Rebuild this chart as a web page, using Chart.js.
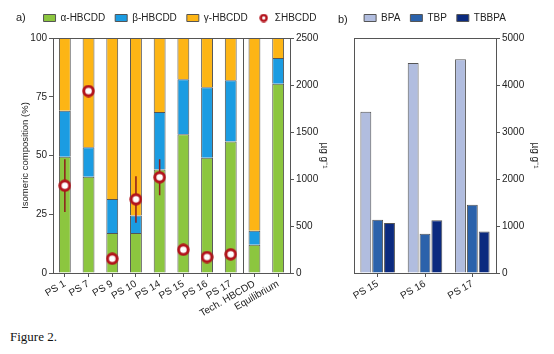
<!DOCTYPE html>
<html>
<head>
<meta charset="utf-8">
<script src="https://cdn.jsdelivr.net/npm/chart.js@4.4.0/dist/chart.umd.min.js"></script>
<style>
  body { margin: 0; background: #fff; width: 554px; height: 354px; position: relative; overflow: hidden; font-family: "Liberation Sans", Arial, sans-serif; }
  #wrapA { position: absolute; left: 0; top: 0; width: 330px; height: 320px; }
  #wrapB { position: absolute; left: 330px; top: 0; width: 224px; height: 320px; }
  .tag { position: absolute; font-size: 11px; color: #222; }
  #figCap { position: absolute; left: 10px; top: 329px; font-family: "Liberation Serif", "Times New Roman", serif; font-size: 13px; color: #111; }
</style>
</head>
<body>
<div id="wrapA"><canvas id="chartA"></canvas></div>
<div id="wrapB"><canvas id="chartB"></canvas></div>
<div class="tag" style="left:16px;top:11px">a)</div>
<div class="tag" style="left:338px;top:13px">b)</div>
<div id="figCap">Figure 2.</div>
<script>
// panel a - HBCDD isomers (%) and sum HBCDD (ug/g)
const sampleLabels = ['PS 1', 'PS 7', 'PS 9', 'PS 10', 'PS 14', 'PS 15', 'PS 16', 'PS 17', 'Tech. HBCDD', 'Equilibrium'];
const alphaPct = [49.5, 41, 17, 17, 44, 59, 49, 56, 12, 80.5];
const betaPct = [19.5, 12.5, 14.5, 7.5, 24.5, 23.5, 30, 26, 6, 11];
const gammaPct = [31, 46.5, 68.5, 75.5, 31.5, 17.5, 21, 18, 82, 8.5];
const sumHbcdd = [929, 1936, 152, 784, 1018, 248, 170, 199, null, null];
const sumLow = [649, null, null, 535, 827, null, null, null, null, null];
const sumHigh = [1210, null, null, 1029, 1210, null, null, null, null, null];

// panel b - bisphenol / bromophenols (ug/g)
const bfrLabels = ['PS 15', 'PS 16', 'PS 17'];
const bpaConc = [3430, 4470, 4550];
const tbpConc = [1135, 835, 1450];
const tbbpaConc = [1065, 1120, 885];

Chart.defaults.font.family = '"Liberation Sans", Arial, sans-serif';
Chart.defaults.font.size = 10;
Chart.defaults.color = '#222';

const axisGrey = '#555';
const sumRed = '#b3121b';

// white dot with a thick red ring
function ringMarker(size, lw) {
  const c = document.createElement('canvas');
  c.width = size;
  c.height = size;
  const g = c.getContext('2d');
  g.beginPath();
  g.arc(size / 2, size / 2, size / 2 - lw / 2 - 0.3, 0, Math.PI * 2);
  g.fillStyle = '#fff';
  g.fill();
  g.lineWidth = lw;
  g.strokeStyle = sumRed;
  g.stroke();
  return c;
}
const ring = ringMarker(13, 2.9);
const ringSmall = ringMarker(9, 2.5);

// more room under the legend, and nudge it sideways
const legendShift = (gap, dx) => ({
  id: 'legendShift',
  beforeInit(chart) {
    const origFit = chart.legend.fit;
    chart.legend.fit = function () {
      origFit.call(this);
      this.height += gap;
    };
  },
  afterLayout(chart) {
    chart.legend.left += dx;
    chart.legend.right += dx;
  }
});

// top border of the box + optional separator between categories
const frameLines = {
  id: 'frameLines',
  beforeDatasetsDraw(chart, args, opts) {
    const { ctx, chartArea: a, scales: { x } } = chart;
    ctx.save();
    ctx.strokeStyle = axisGrey;
    ctx.lineWidth = 1;
    ctx.beginPath();
    ctx.moveTo(a.left, a.top + 0.5);
    ctx.lineTo(a.right, a.top + 0.5);
    (opts.splitAfter || []).forEach(i => {
      const px = Math.round((x.getPixelForValue(i) + x.getPixelForValue(i + 1)) / 2) + 0.5;
      ctx.moveTo(px, a.top);
      ctx.lineTo(px, a.bottom);
    });
    ctx.stroke();
    ctx.restore();
  }
};

// error bars for the sum, drawn just before the markers
const errorBars = {
  id: 'errorBars',
  beforeDatasetDraw(chart, args) {
    if (args.meta.type !== 'line') return;
    const { ctx, scales: { x, y2 } } = chart;
    ctx.save();
    ctx.strokeStyle = '#8e1b1b';
    ctx.lineWidth = 1.5;
    sumLow.forEach((lo, i) => {
      if (lo == null) return;
      const px = x.getPixelForValue(i);
      ctx.beginPath();
      ctx.moveTo(px, y2.getPixelForValue(lo));
      ctx.lineTo(px, y2.getPixelForValue(sumHigh[i]));
      ctx.stroke();
    });
    ctx.restore();
  }
};

const legendLabels = {
  usePointStyle: true,
  pointStyleWidth: 12,
  boxHeight: 7,
  padding: 10,
  color: '#222',
  font: { size: 10 },
  sort: (a, b) => a.datasetIndex - b.datasetIndex,
  generateLabels: chart => Chart.defaults.plugins.legend.labels.generateLabels(chart)
    .map(item => item.pointStyle === ring ? { ...item, pointStyle: ringSmall } : item)
};

const tickGrid = { drawOnChartArea: false, tickLength: 4, color: axisGrey };
const plainNum = v => String(v);

new Chart(document.getElementById('chartA'), {
  type: 'bar',
  data: {
    labels: sampleLabels,
    datasets: [
      { label: 'α-HBCDD', data: alphaPct, backgroundColor: '#8cc63f', borderColor: axisGrey, borderWidth: 1, pointStyle: 'rect' },
      { label: 'β-HBCDD', data: betaPct, backgroundColor: '#1b9ce2', borderColor: axisGrey, borderWidth: 1, pointStyle: 'rect' },
      { label: 'γ-HBCDD', data: gammaPct, backgroundColor: '#fdb515', borderColor: axisGrey, borderWidth: 1, pointStyle: 'rect' },
      {
        type: 'line', label: 'ΣHBCDD', data: sumHbcdd, yAxisID: 'y2', showLine: false, order: -1,
        pointStyle: ring, pointRadius: 6,
        backgroundColor: '#fff', borderColor: sumRed, borderWidth: 0
      }
    ]
  },
  options: {
    responsive: true,
    maintainAspectRatio: false,
    animation: false,
    layout: { padding: { left: 20, right: 0, top: 3, bottom: 0 } },
    datasets: { bar: { barPercentage: 0.5, categoryPercentage: 1 } },
    plugins: {
      tooltip: { enabled: false },
      legend: { labels: legendLabels },
      frameLines: { splitAfter: [sampleLabels.indexOf('PS 17')] }
    },
    scales: {
      x: {
        stacked: true,
        grid: { drawOnChartArea: false, offset: false, tickLength: 4, color: axisGrey },
        border: { color: axisGrey },
        ticks: { minRotation: 30, maxRotation: 30, padding: 1, autoSkip: false },
        afterFit: s => { s.height = 47; }
      },
      y: {
        stacked: true, min: 0, max: 100,
        ticks: { stepSize: 25, padding: 2, callback: plainNum },
        grid: tickGrid,
        border: { color: axisGrey },
        title: { display: true, text: 'Isomeric composition (%)', padding: 0, font: { size: 9.5 } },
        afterFit: s => { s.width = 33; }
      },
      y2: {
        position: 'right', min: 0, max: 2500,
        ticks: { stepSize: 500, padding: 2, callback: plainNum },
        grid: tickGrid,
        border: { color: axisGrey },
        title: { display: true, text: 'µg g⁻¹', padding: 0 },
        afterFit: s => { s.width = 40; }
      }
    }
  },
  plugins: [legendShift(5, 5), frameLines, errorBars]
});

new Chart(document.getElementById('chartB'), {
  type: 'bar',
  data: {
    labels: bfrLabels,
    datasets: [
      { label: 'BPA', data: bpaConc, yAxisID: 'y', backgroundColor: '#b1bddf', borderColor: axisGrey, borderWidth: 1, pointStyle: 'rect' },
      { label: 'TBP', data: tbpConc, yAxisID: 'y', backgroundColor: '#2b62ab', borderColor: axisGrey, borderWidth: 1, pointStyle: 'rect' },
      { label: 'TBBPA', data: tbbpaConc, yAxisID: 'y', backgroundColor: '#0b2a7f', borderColor: axisGrey, borderWidth: 1, pointStyle: 'rect' }
    ]
  },
  options: {
    responsive: true,
    maintainAspectRatio: false,
    animation: false,
    layout: { padding: { left: 7, right: 13, top: 3, bottom: 0 } },
    datasets: { bar: { categoryPercentage: 0.75, barPercentage: 0.92 } },
    plugins: {
      tooltip: { enabled: false },
      legend: { labels: legendLabels }
    },
    scales: {
      x: {
        grid: { drawOnChartArea: false, offset: false, tickLength: 4, color: axisGrey },
        border: { color: axisGrey },
        ticks: { minRotation: 30, maxRotation: 30, padding: 1 },
        afterFit: s => { s.height = 47; }
      },
      y: {
        position: 'right', min: 0, max: 5000,
        ticks: { stepSize: 1000, padding: 2, callback: plainNum },
        grid: tickGrid,
        border: { color: axisGrey },
        title: { display: true, text: 'µg g⁻¹', padding: 0 },
        afterFit: s => { s.width = 45; }
      },
      yl: {
        position: 'left', min: 0, max: 5000,
        ticks: { display: false },
        grid: { display: false },
        border: { color: axisGrey },
        afterFit: s => { s.width = 17; }
      }
    }
  },
  plugins: [legendShift(5, -4), frameLines]
});
</script>
</body>
</html>
